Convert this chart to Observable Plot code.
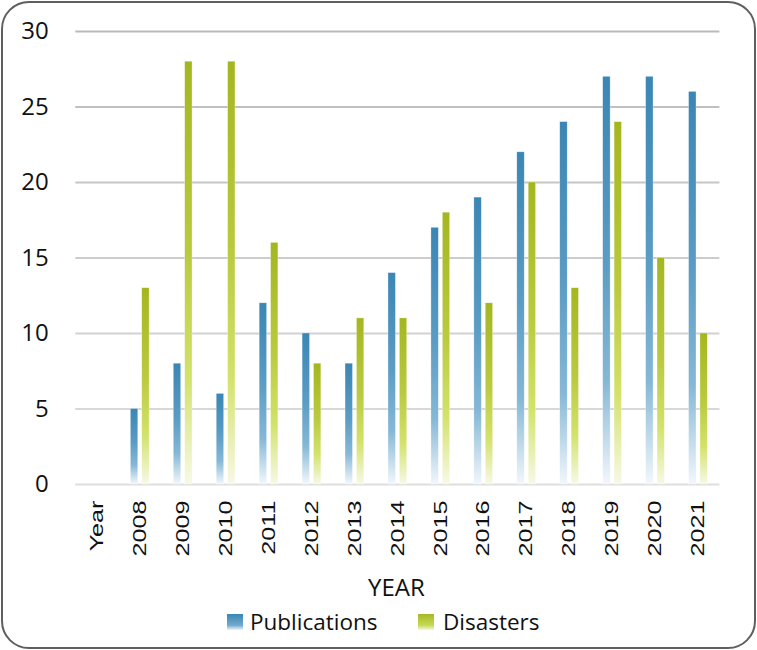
<!DOCTYPE html>
<html>
<head>
<meta charset="utf-8">
<script src="https://cdn.jsdelivr.net/npm/d3@7"></script>
<script src="https://cdn.jsdelivr.net/npm/@observablehq/plot@0.6"></script>
<style>
  html, body { margin: 0; padding: 0; background: #fff; }
  #wrap { position: relative; width: 757px; height: 650px; overflow: hidden; font-family: "Open Sans", sans-serif; }
  #frame { position: absolute; left: 1px; top: 1px; width: 755px; height: 648px; box-sizing: border-box;
           border: 2.5px solid #5f5f5f; border-radius: 28px; pointer-events: none; }
  #chart { position: absolute; left: 0; top: 0; }
  .lbl { position: absolute; color: #111; white-space: nowrap; }
  .sw { position: absolute; width: 16px; height: 16px; }
</style>
</head>
<body>
<div id="wrap">
  <div id="chart"></div>
  <div class="lbl" id="xtitle" style="left:368px; top:574px; font-size:24px; line-height:26px;">YEAR</div>
  <div class="sw" style="left:227px; top:614px; background:linear-gradient(#3a87b4, #6fa9cc 70%, #eef5fb);"></div>
  <div class="lbl" style="left:250px; top:608px; font-size:22.5px; line-height:28px;">Publications</div>
  <div class="sw" style="left:418px; top:614px; background:linear-gradient(#a6b825, #c6d955 70%, #f4f8dc);"></div>
  <div class="lbl" style="left:443px; top:608px; font-size:22.5px; line-height:28px;">Disasters</div>
  <div id="frame"></div>
</div>
<script>
const categories = ["Year", "2008", "2009", "2010", "2011", "2012", "2013", "2014", "2015", "2016", "2017", "2018", "2019", "2020", "2021"];
const publications = [null, 5, 8, 6, 12, 10, 8, 14, 17, 19, 22, 24, 27, 27, 26];
const disasters = [null, 13, 28, 28, 16, 8, 11, 11, 18, 12, 20, 13, 24, 15, 10];
const yTicks = [0, 5, 10, 15, 20, 25, 30];

const rows = categories.map((c, i) => ({cat: c, pub: publications[i], dis: disasters[i]}));
const gridColor = d3.scaleLinear().domain([0, 30]).range(["#dedede", "#bababa"]);

const chart = Plot.plot({
  width: 757,
  height: 560,
  marginTop: 31,
  marginBottom: 76,
  marginLeft: 75.3,
  marginRight: 37.6,
  style: {background: "transparent", fontFamily: "Liberation Sans, Arial, sans-serif", color: "#111"},
  x: {domain: categories, padding: 0, round: false, axis: null},
  y: {domain: [0, 30], axis: null},
  marks: [
    Plot.ruleY(yTicks, {stroke: d => gridColor(d), strokeWidth: 2}),
    Plot.barY(rows.filter(d => d.pub != null), {x: "cat", y: "pub", fill: "url(#gPub)", stroke: "#ffffff", strokeOpacity: 0.5, strokeWidth: 0.6, insetLeft: 12.1, insetRight: 23.4}),
    Plot.barY(rows.filter(d => d.dis != null), {x: "cat", y: "dis", fill: "url(#gDis)", stroke: "#ffffff", strokeOpacity: 0.5, strokeWidth: 0.6, insetLeft: 23.5, insetRight: 12.1}),
    Plot.axisY({ticks: yTicks, tickSize: 0, tickPadding: 27, fontSize: 24, fontFamily: "Open Sans", tickFormat: d => String(d), fill: "#111", label: null}),
    Plot.axisX({tickSize: 0, tickRotate: -90, tickPadding: 16, fontSize: 18, fill: "#111", label: null})
  ]
});

// gradient definitions for bars
const ns = "http://www.w3.org/2000/svg";
const defs = document.createElementNS(ns, "defs");
function grad(id, stops) {
  const g = document.createElementNS(ns, "linearGradient");
  g.setAttribute("id", id);
  g.setAttribute("x1", "0"); g.setAttribute("y1", "0");
  g.setAttribute("x2", "0"); g.setAttribute("y2", "1");
  for (const [o, c] of stops) {
    const s = document.createElementNS(ns, "stop");
    s.setAttribute("offset", o);
    s.setAttribute("stop-color", c);
    g.appendChild(s);
  }
  defs.appendChild(g);
}
grad("gPub", [["0", "#3a86b4"], ["0.45", "#5a9cc4"], ["0.75", "#86b8d6"], ["1", "#f2f7fc"]]);
grad("gDis", [["0", "#a4b61f"], ["0.45", "#b9ca3e"], ["0.75", "#d3e26a"], ["1", "#f7f9e6"]]);
chart.insertBefore(defs, chart.firstChild);

// stretch x tick labels along their length
chart.querySelectorAll('g[aria-label="x-axis tick label"] text').forEach(t => {
  const tr = t.getAttribute("transform") || "";
  t.setAttribute("transform", tr + " scale(1.4,1)");
});

document.getElementById("chart").appendChild(chart);
</script>
</body>
</html>
